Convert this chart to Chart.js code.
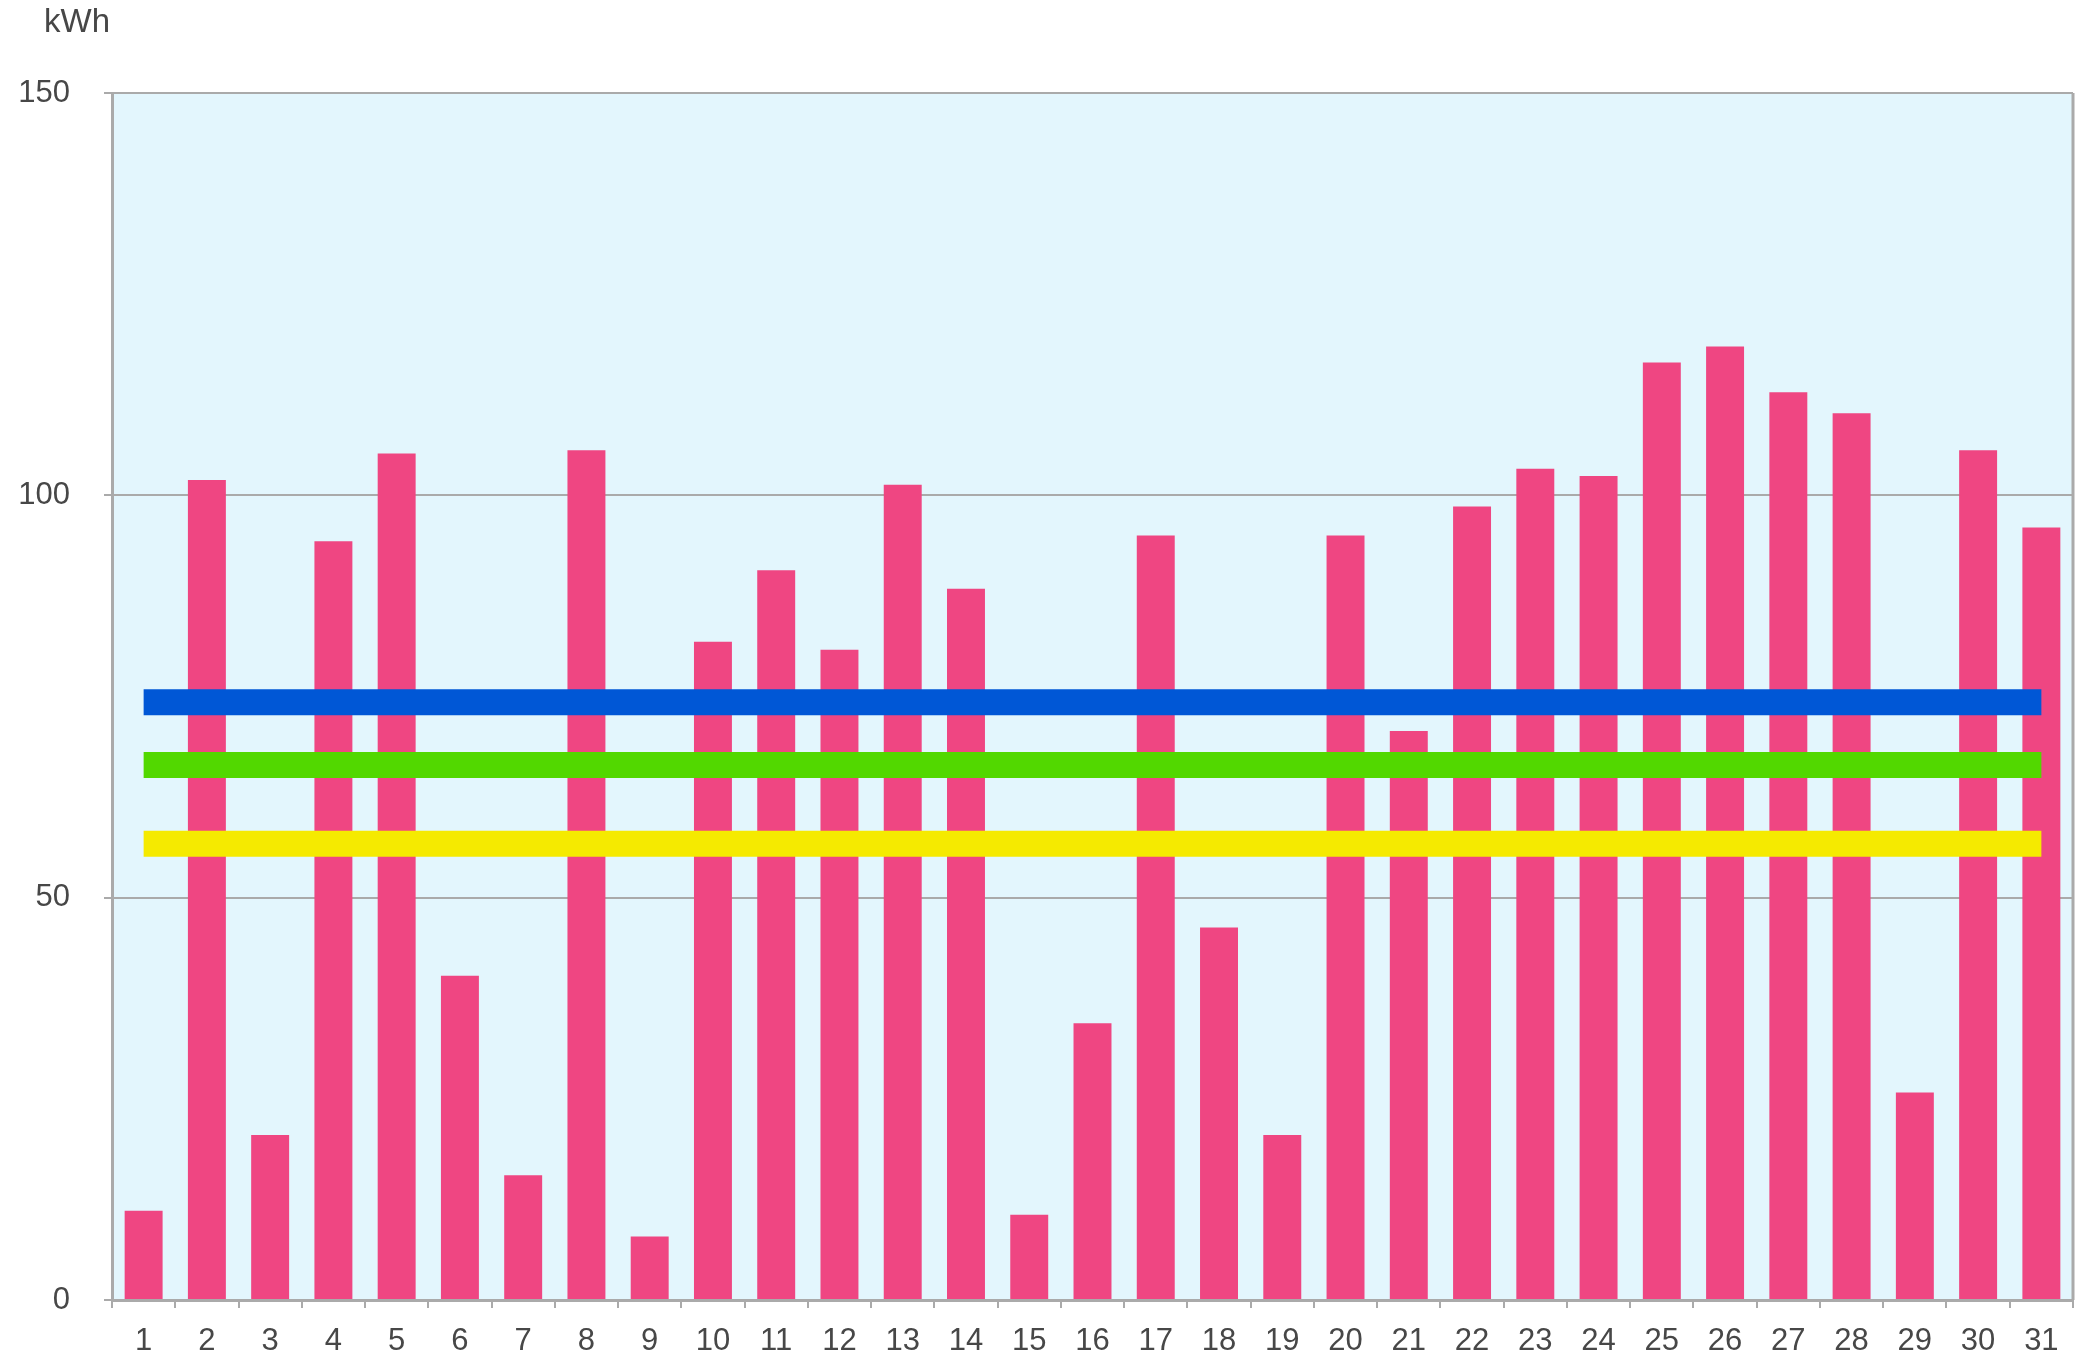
<!DOCTYPE html>
<html lang="en">
<head>
    <meta charset="UTF-8">
    <title>Daily kWh</title>
    <script src="https://cdn.jsdelivr.net/npm/chart.js"></script>
    <style>
        html, body { margin: 0; padding: 0; background: #fff; }
        #wrap { width: 2086px; height: 1357px; }
    </style>
</head>
<body>
    <div id="wrap"><canvas id="usageChart"></canvas></div>

    <script>
        // daily consumption, kWh
        const days = ['1','2','3','4','5','6','7','8','9','10','11','12','13','14','15','16',
                      '17','18','19','20','21','22','23','24','25','26','27','28','29','30','31'];
        const usage = [11.1, 101.9, 20.5, 94.3, 105.2, 40.3, 15.5, 105.6, 7.9, 81.8, 90.7, 80.8,
                       101.3, 88.4, 10.6, 34.4, 95.0, 46.3, 20.5, 95.0, 70.7, 98.6, 103.3, 102.4,
                       116.5, 118.5, 112.8, 110.2, 25.8, 105.6, 96.0];
        // reference levels
        const levelBlue = 74.3;
        const levelGreen = 66.5;
        const levelYellow = 56.7;
        const yTicks = [0, 50, 100, 150];

        const flat = v => days.map(() => v);
        const gray = '#aaaaaa';
        const textColor = '#474747';
        const fontFamily = '"Liberation Sans", Arial, sans-serif';

        const framePlugin = {
            id: 'frame',
            beforeDraw(chart) {
                const a = chart.chartArea, c = chart.ctx;
                c.save();
                c.fillStyle = '#e3f6fd';
                c.fillRect(a.left, a.top, a.right - a.left, a.bottom - a.top);
                c.restore();
            },
            afterDraw(chart) {
                const a = chart.chartArea, c = chart.ctx;
                c.save();
                c.strokeStyle = gray;
                c.lineWidth = 3;
                c.beginPath();
                c.moveTo(a.right, a.top);
                c.lineTo(a.right, a.bottom);
                c.stroke();
                c.fillStyle = textColor;
                c.font = '33px ' + fontFamily;
                c.textBaseline = 'middle';
                c.fillText('kWh', 44, 23);
                c.restore();
            }
        };

        new Chart(document.getElementById('usageChart'), {
            type: 'bar',
            data: {
                labels: days,
                datasets: [
                    { type: 'line', data: flat(levelBlue), borderColor: '#0057d6', borderWidth: 26,
                      pointRadius: 0, borderCapStyle: 'butt', order: 1 },
                    { type: 'line', data: flat(levelGreen), borderColor: '#52d800', borderWidth: 26,
                      pointRadius: 0, borderCapStyle: 'butt', order: 1 },
                    { type: 'line', data: flat(levelYellow), borderColor: '#f5ea00', borderWidth: 26,
                      pointRadius: 0, borderCapStyle: 'butt', order: 1 },
                    { data: usage, backgroundColor: '#ef4682', barPercentage: 0.6,
                      categoryPercentage: 1.0, order: 2 }
                ]
            },
            options: {
                responsive: true,
                maintainAspectRatio: false,
                animation: false,
                layout: { padding: { top: 93, right: 13, left: 0, bottom: 0 } },
                plugins: { legend: { display: false }, tooltip: { enabled: false } },
                scales: {
                    x: {
                        offset: true,
                        grid: { offset: true, drawOnChartArea: false, color: gray, lineWidth: 2, tickLength: 8 },
                        border: { color: gray, width: 3 },
                        ticks: { color: textColor, padding: 15, maxRotation: 0,
                                 font: { family: fontFamily, size: 31 } },
                        afterFit(s) { s.height = 57; }
                    },
                    y: {
                        min: 0,
                        max: 150,
                        afterBuildTicks(s) { s.ticks = yTicks.map(v => ({ value: v })); },
                        grid: { color: gray, lineWidth: 2, tickLength: 8 },
                        border: { color: gray, width: 3 },
                        ticks: { color: textColor, padding: 34,
                                 font: { family: fontFamily, size: 31 } },
                        afterFit(s) { s.width = 112; }
                    }
                }
            },
            plugins: [framePlugin]
        });
    </script>
</body>
</html>
